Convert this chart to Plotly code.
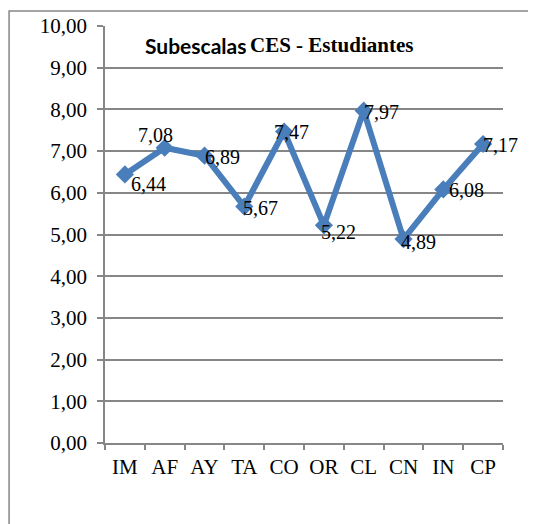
import plotly.graph_objects as go

# subescalas CES - estudiantes
categorias = ['IM', 'AF', 'AY', 'TA', 'CO', 'OR', 'CL', 'CN', 'IN', 'CP']
valores = [6.44, 7.08, 6.89, 5.67, 7.47, 5.22, 7.97, 4.89, 6.08, 7.17]
ticks_y = [0, 1, 2, 3, 4, 5, 6, 7, 8, 9, 10]

# desplazamiento de cada etiqueta respecto al marcador (px)
desp_x = [24, -9, 18, 16, 7, 15, 18, 15, 23, 17]
desp_y = [-10, 13, -1, -1, 0, -7, -1, -3, -1, -1]

azul = '#4a7ebb'
gris = '#868686'
serif = 'Liberation Serif, Times New Roman, serif'

fig = go.Figure()

fig.add_trace(go.Scatter(
    x=categorias,
    y=valores,
    mode='lines+markers',
    line=dict(color=azul, width=6),
    marker=dict(symbol='diamond', size=14, color=azul),
    showlegend=False,
    hoverinfo='skip'
))

anotaciones = []
for c, v, dx, dy in zip(categorias, valores, desp_x, desp_y):
    anotaciones.append(dict(
        x=c, y=v, xref='x', yref='y',
        text=f'{v:.2f}'.replace('.', ','),
        showarrow=False,
        xanchor='center', yanchor='middle',
        xshift=dx, yshift=dy,
        font=dict(family=serif, size=20, color='black')
    ))

# titulo: la primera palabra sale en otra fuente en el original
anotaciones.append(dict(
    x=0.0955, y=0.954, xref='paper', yref='paper',
    text='<b>Subescalas</b>',
    showarrow=False, xanchor='left', yanchor='middle',
    font=dict(family='Lato, Noto Sans, sans-serif', size=21, color='black')
))
anotaciones.append(dict(
    x=0.359, y=0.954, xref='paper', yref='paper',
    text='<b>CES - Estudiantes</b>',
    showarrow=False, xanchor='left', yanchor='middle',
    font=dict(family=serif, size=21, color='black')
))

# el div queda desplazado 8px por el margen del body
fig.update_layout(
    width=536,
    height=524,
    margin=dict(l=97, r=41, t=18, b=89),
    paper_bgcolor='white',
    plot_bgcolor='white',
    separators=',.',
    annotations=anotaciones,
    shapes=[dict(
        type='rect', xref='paper', yref='paper',
        x0=-0.241, x1=1.2, y0=-0.3, y1=1.036,
        line=dict(color=gris, width=1.5),
        fillcolor='rgba(0,0,0,0)', layer='below'
    )]
)

fig.update_xaxes(
    type='category',
    range=[-0.5, len(categorias) - 0.5],
    automargin=False,
    tickson='boundaries',
    tickangle=0,
    ticks='outside', ticklen=5, tickcolor=gris, tickwidth=1.5,
    showline=True, linecolor=gris, linewidth=1.5,
    showgrid=False,
    ticklabelstandoff=4,
    tickfont=dict(family=serif, size=21, color='black')
)

fig.update_yaxes(
    range=[0, 10],
    automargin=False,
    tickvals=ticks_y,
    tickformat='.2f',
    ticks='outside', ticklen=6, tickcolor=gris, tickwidth=1.5,
    showline=True, linecolor=gris, linewidth=1.5,
    showgrid=True, gridcolor=gris, gridwidth=1.5,
    zeroline=False,
    ticklabelstandoff=6,
    tickfont=dict(family=serif, size=21, color='black')
)

fig.write_html('out.html')
